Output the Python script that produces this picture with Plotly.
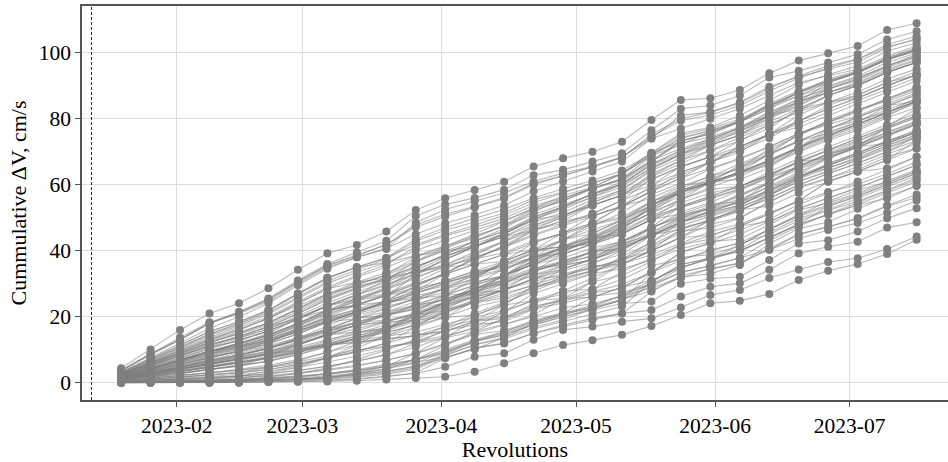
import plotly.graph_objects as go

# Revolution epochs (one marker column per revolution)
rev_dates = [
    "2023-01-19 14:24", "2023-01-26 04:00", "2023-02-01 17:30", "2023-02-08 07:12",
    "2023-02-14 21:00", "2023-02-21 10:30", "2023-02-28 00:00", "2023-03-06 13:40",
    "2023-03-13 03:20", "2023-03-19 17:00", "2023-03-26 06:30", "2023-04-01 20:00",
    "2023-04-08 09:40", "2023-04-14 23:20", "2023-04-21 13:00", "2023-04-28 02:30",
    "2023-05-04 16:00", "2023-05-11 05:50", "2023-05-17 19:30", "2023-05-24 09:00",
    "2023-05-30 22:30", "2023-06-06 12:15", "2023-06-13 02:00", "2023-06-19 15:30",
    "2023-06-26 05:00", "2023-07-02 18:40", "2023-07-09 08:20", "2023-07-15 22:00",
]

# Upper runs (cumulative dV, cm/s)
top_runs = [
    [4.4, 10.1, 16.0, 21.0, 24.1, 28.6, 34.2, 39.2, 41.7, 45.8, 52.3, 55.9, 58.4, 60.9, 65.5, 68.0, 70.0, 73.0, 79.6, 85.7, 86.2, 88.7, 93.8, 97.6, 99.8, 102.0, 106.9, 108.9],
    [3.8, 8.8, 13.1, 18.0, 21.5, 25.5, 31.0, 36.0, 39.5, 43.0, 50.5, 54.0, 56.0, 58.5, 62.9, 64.5, 67.0, 69.5, 76.5, 83.0, 84.0, 87.0, 92.5, 94.5, 97.0, 99.5, 104.0, 106.5],
    [3.2, 7.5, 12.0, 16.5, 20.0, 24.0, 29.5, 34.5, 38.0, 40.5, 48.5, 52.5, 55.0, 57.5, 61.0, 63.5, 65.5, 68.5, 74.0, 81.0, 82.0, 84.7, 89.2, 93.0, 96.0, 98.0, 101.8, 104.0],
    [3.6, 8.6, 13.0, 18.0, 21.2, 25.0, 30.5, 35.5, 38.7, 41.8, 47.7, 51.1, 53.4, 56.1, 60.4, 62.7, 65.5, 68.2, 75.2, 80.0, 82.0, 85.0, 89.7, 92.7, 95.0, 97.2, 101.5, 104.2],
    [2.3, 5.4, 8.4, 11.5, 14.1, 16.9, 20.9, 25.1, 28.3, 31.2, 34.8, 38.9, 42.9, 45.9, 50.3, 53.3, 57.2, 60.2, 66.4, 70.2, 74.0, 77.0, 82.0, 86.0, 89.5, 92.5, 96.0, 99.5],
    [2.9, 6.8, 10.8, 14.8, 18.0, 21.8, 26.8, 31.5, 35.0, 37.8, 43.5, 47.0, 49.8, 52.5, 56.0, 58.8, 61.3, 64.3, 69.5, 75.0, 77.0, 79.9, 84.1, 88.0, 91.5, 94.0, 97.9, 100.5],
    [1.8, 4.4, 6.8, 9.4, 11.0, 13.6, 17.3, 21.3, 24.8, 28.5, 33.2, 37.4, 41.2, 45.3, 49.2, 53.2, 56.2, 60.3, 66.0, 69.5, 73.4, 76.4, 81.2, 85.2, 88.0, 90.7, 94.5, 97.7],
    [2.4, 5.6, 8.8, 11.7, 13.6, 16.3, 19.9, 23.4, 25.6, 28.9, 34.6, 39.0, 42.9, 46.7, 51.8, 55.7, 59.2, 63.3, 69.7, 75.6, 77.4, 81.0, 85.5, 90.3, 93.4, 96.0, 100.5, 103.0],
    [2.1, 5.0, 7.9, 10.9, 13.5, 16.3, 20.2, 24.2, 27.5, 30.5, 34.0, 38.1, 42.1, 45.1, 49.5, 52.5, 56.3, 59.3, 65.3, 69.2, 73.0, 76.0, 81.0, 84.0, 88.0, 90.2, 94.0, 97.2],
    [2.4, 5.7, 8.9, 12.3, 14.7, 17.5, 21.6, 25.7, 28.8, 31.6, 35.3, 38.5, 41.2, 45.3, 50.2, 53.2, 57.3, 60.3, 66.0, 70.4, 73.4, 77.3, 81.2, 86.1, 89.0, 91.6, 95.5, 98.6],
    [3.0, 7.0, 10.7, 14.7, 17.8, 21.3, 26.0, 30.7, 34.2, 37.4, 42.9, 46.2, 48.7, 51.4, 55.4, 57.7, 60.4, 63.2, 69.0, 74.3, 76.3, 79.3, 83.9, 86.9, 90.0, 92.9, 97.0, 99.9],
    [3.8, 8.7, 13.7, 18.3, 21.3, 25.3, 30.6, 35.5, 38.4, 41.9, 47.1, 50.4, 53.1, 55.8, 60.0, 62.8, 65.3, 68.3, 74.6, 79.4, 81.1, 83.9, 88.4, 92.3, 95.4, 98.0, 102.5, 105.0],
    [2.8, 6.5, 10.0, 13.8, 16.8, 20.0, 24.5, 29.0, 32.5, 35.8, 41.3, 44.5, 47.0, 49.8, 53.7, 56.0, 58.8, 61.5, 67.3, 72.5, 74.5, 77.5, 82.0, 85.0, 88.0, 91.0, 95.0, 98.0],
    [1.8, 4.3, 6.8, 9.4, 11.5, 14.0, 17.5, 21.0, 23.8, 26.3, 32.7, 37.3, 41.2, 45.0, 49.6, 53.4, 57.0, 61.0, 66.9, 73.3, 75.3, 79.0, 83.2, 88.0, 91.5, 94.0, 97.9, 100.5],
    [2.5, 6.0, 9.2, 12.8, 15.3, 18.2, 22.4, 26.7, 29.8, 32.6, 36.4, 40.6, 44.4, 47.4, 52.1, 55.1, 58.9, 61.9, 68.7, 72.2, 76.0, 79.0, 84.0, 88.0, 92.0, 94.5, 98.5, 101.5],
    [2.3, 5.2, 8.3, 10.9, 12.6, 15.7, 19.4, 23.4, 26.6, 31.1, 36.8, 41.2, 45.0, 48.9, 52.9, 56.7, 59.2, 63.3, 68.8, 73.9, 76.5, 79.3, 84.6, 88.5, 91.4, 94.2, 98.5, 101.1],
    [2.5, 5.9, 8.9, 12.3, 15.0, 18.0, 22.1, 26.2, 29.5, 32.8, 38.1, 41.3, 43.8, 47.7, 52.7, 55.0, 58.8, 61.5, 67.3, 73.4, 75.4, 79.3, 83.9, 87.8, 91.0, 93.8, 98.0, 100.8],
    [2.0, 4.7, 7.5, 10.3, 12.8, 15.7, 19.4, 23.4, 26.8, 29.8, 33.2, 37.2, 41.3, 44.3, 48.6, 51.6, 55.4, 58.4, 64.2, 68.2, 72.0, 75.0, 80.0, 84.0, 89.0, 92.0, 96.0, 99.0],
    [1.9, 4.6, 7.1, 9.7, 11.8, 15.0, 19.3, 23.2, 25.3, 27.1, 30.4, 34.6, 38.6, 42.7, 46.3, 48.3, 51.3, 55.3, 61.7, 65.4, 68.4, 70.3, 74.1, 79.2, 84.0, 87.2, 91.0, 93.2],
]

# Lower runs
low_runs = [
    [0.0, 0.0, 0.0, 0.0, 0.0, 0.2, 0.3, 0.4, 0.6, 1.0, 1.4, 1.8, 3.3, 5.9, 8.9, 11.4, 12.9, 14.5, 17.2, 20.5, 24.1, 24.8, 26.9, 31.1, 33.9, 36.0, 39.0, 43.3],
    [0.0, 0.0, 0.0, 0.1, 0.2, 0.3, 0.5, 0.8, 1.2, 2.0, 2.8, 4.8, 7.9, 8.9, 13.0, 16.0, 17.0, 18.5, 19.5, 22.8, 26.6, 28.1, 31.7, 34.3, 36.6, 37.7, 40.5, 44.3],
    [0.0, 0.0, 0.1, 0.2, 0.4, 0.6, 1.0, 1.5, 2.5, 3.5, 5.0, 7.4, 10.4, 11.9, 15.0, 17.5, 19.5, 21.0, 22.0, 26.1, 29.1, 30.1, 34.2, 39.2, 41.2, 42.7, 47.0, 48.6],
    [0.1, 0.2, 0.3, 0.5, 0.8, 1.2, 1.8, 2.8, 4.0, 5.5, 7.0, 9.0, 12.5, 14.5, 17.5, 20.0, 22.0, 24.0, 24.6, 30.0, 31.5, 32.1, 37.2, 42.2, 43.2, 45.8, 49.8, 52.9],
    [0.1, 0.3, 0.4, 0.6, 0.9, 1.3, 1.8, 2.7, 3.8, 5.3, 7.0, 9.5, 12.8, 15.0, 18.0, 20.5, 22.8, 25.3, 27.8, 32.5, 34.5, 36.1, 40.6, 45.1, 47.1, 49.9, 53.7, 57.0],
    [0.2, 0.5, 0.8, 1.2, 1.6, 2.2, 3.0, 4.1, 5.3, 6.9, 8.8, 11.6, 14.6, 15.8, 18.9, 21.3, 22.5, 25.0, 29.3, 33.5, 35.3, 37.9, 43.1, 47.4, 51.1, 54.6, 58.3, 61.6],
    [0.5, 1.3, 2.1, 2.9, 3.8, 4.8, 6.3, 8.0, 10.0, 11.0, 12.0, 13.6, 15.5, 17.7, 20.0, 22.7, 23.9, 26.2, 28.8, 31.7, 34.5, 36.3, 40.3, 44.8, 47.4, 49.6, 53.5, 56.1],
    [1.1, 2.6, 4.1, 5.7, 7.1, 8.7, 10.0, 11.4, 12.4, 13.3, 14.2, 15.7, 17.6, 18.5, 22.3, 24.2, 26.2, 27.3, 29.8, 33.4, 35.6, 37.8, 40.3, 43.6, 46.3, 48.4, 51.5, 55.2],
    [0.1, 0.2, 0.3, 0.4, 0.6, 0.8, 1.1, 1.6, 2.6, 4.2, 7.0, 11.3, 15.5, 19.5, 23.9, 27.8, 31.7, 35.9, 40.2, 46.5, 49.4, 52.3, 55.9, 59.9, 63.3, 66.5, 70.0, 74.6],
    [0.2, 0.4, 0.6, 0.8, 1.0, 1.5, 2.0, 2.7, 3.6, 4.8, 6.1, 7.8, 10.1, 13.7, 18.0, 20.7, 23.0, 26.4, 29.8, 34.7, 38.0, 39.8, 43.9, 47.9, 51.0, 53.8, 55.8, 59.7],
    [0.1, 0.1, 0.2, 0.3, 0.5, 0.7, 1.0, 1.3, 2.0, 3.0, 4.5, 8.5, 11.5, 13.3, 16.3, 18.5, 20.7, 23.1, 30.5, 35.8, 37.7, 41.6, 46.6, 50.9, 54.9, 58.4, 60.8, 64.1],
    [1.4, 3.1, 4.9, 6.8, 8.4, 10.4, 12.9, 15.7, 17.2, 18.7, 20.3, 22.0, 24.2, 25.7, 28.9, 30.6, 33.1, 34.5, 37.1, 40.6, 42.8, 43.5, 47.8, 52.3, 54.5, 57.4, 61.2, 64.5],
    [0.5, 1.3, 2.0, 2.8, 3.6, 4.6, 5.9, 7.5, 9.1, 10.8, 12.5, 14.2, 16.4, 19.2, 22.5, 25.2, 27.5, 29.8, 33.4, 37.0, 40.3, 42.2, 45.0, 49.1, 52.2, 55.0, 58.3, 62.2],
    [0.9, 2.1, 3.4, 4.8, 6.1, 7.4, 9.3, 11.4, 13.4, 15.3, 17.4, 19.9, 23.0, 25.0, 28.8, 31.8, 33.8, 36.0, 38.8, 42.4, 45.8, 48.1, 51.6, 54.9, 57.8, 60.1, 63.3, 66.9],
    [0.1, 0.2, 0.3, 0.5, 0.7, 1.7, 2.8, 4.5, 7.0, 9.9, 13.2, 17.0, 21.0, 24.4, 27.7, 31.5, 34.0, 37.3, 40.0, 44.1, 48.0, 50.0, 54.8, 59.3, 62.1, 64.5, 68.5, 71.0],
    [1.4, 3.1, 4.9, 6.8, 8.4, 10.4, 12.9, 15.7, 18.0, 20.3, 22.8, 25.3, 28.5, 31.0, 34.3, 37.0, 39.5, 42.0, 44.8, 49.5, 51.8, 53.6, 58.1, 62.6, 65.1, 67.9, 71.9, 75.0],
    [0.1, 0.1, 0.2, 0.2, 0.4, 0.6, 0.8, 1.1, 1.7, 2.6, 4.0, 8.2, 11.5, 13.8, 16.8, 19.0, 22.5, 25.0, 30.5, 35.8, 37.7, 40.4, 45.5, 49.8, 52.4, 55.9, 59.5, 62.8],
    [1.1, 2.6, 4.1, 5.7, 7.1, 8.7, 10.0, 11.3, 12.3, 13.2, 14.3, 17.0, 18.9, 20.0, 23.3, 24.7, 27.2, 28.5, 33.8, 38.0, 38.8, 41.6, 46.5, 50.8, 54.0, 57.0, 60.5, 64.0],
]

# Main body runs
main_runs = [
    [0.1, 0.2, 0.3, 0.4, 0.6, 0.8, 1.1, 1.6, 2.3, 3.4, 5.0, 8.8, 12.4, 15.5, 18.5, 21.0, 25.9, 28.9, 33.3, 39.5, 42.3, 45.0, 48.8, 52.8, 56.0, 59.0, 62.5, 66.0],
    [0.1, 0.3, 0.5, 0.7, 1.0, 1.3, 1.8, 2.5, 3.5, 5.0, 7.0, 10.0, 13.0, 15.5, 18.5, 21.0, 23.5, 26.5, 31.0, 35.0, 37.5, 40.0, 44.0, 48.0, 51.0, 54.0, 57.5, 61.0],
    [0.4, 1.0, 1.6, 2.3, 3.0, 4.0, 5.5, 7.5, 9.5, 12.0, 14.5, 15.6, 18.6, 19.5, 22.8, 25.5, 25.9, 28.9, 31.0, 35.0, 37.5, 40.0, 44.0, 48.0, 53.5, 56.5, 60.0, 63.5],
    [0.7, 1.8, 2.8, 3.9, 5.1, 6.5, 8.5, 11.0, 13.5, 16.3, 19.0, 22.0, 25.0, 28.0, 31.5, 34.5, 37.5, 40.5, 44.8, 48.8, 51.8, 54.8, 58.3, 62.3, 65.8, 69.0, 72.5, 76.0],
    [1.0, 2.5, 4.0, 5.5, 7.2, 9.0, 11.5, 14.5, 17.5, 20.5, 23.5, 26.5, 29.5, 32.5, 36.0, 39.0, 42.0, 45.0, 49.5, 53.5, 56.5, 59.5, 63.0, 67.0, 70.5, 74.0, 77.5, 81.0],
    [1.4, 3.4, 5.4, 7.5, 9.6, 11.8, 14.8, 18.3, 21.5, 24.5, 27.8, 30.8, 33.8, 36.8, 40.3, 43.3, 46.3, 49.3, 53.8, 57.8, 60.8, 63.8, 67.3, 71.3, 74.8, 78.3, 81.8, 85.3],
    [1.8, 4.2, 6.8, 9.5, 12.0, 14.5, 18.0, 22.0, 25.5, 28.5, 32.0, 35.0, 38.0, 41.0, 44.5, 47.5, 50.5, 53.5, 58.0, 62.0, 65.0, 68.0, 71.5, 75.5, 79.0, 82.5, 86.0, 89.5],
    [2.2, 5.1, 8.2, 11.3, 14.0, 17.0, 21.0, 25.3, 28.8, 31.8, 35.3, 38.3, 41.3, 44.3, 47.8, 50.8, 53.8, 56.8, 61.5, 65.5, 68.5, 71.5, 75.3, 79.3, 83.0, 86.3, 90.0, 93.3],
    [2.6, 6.0, 9.5, 13.0, 16.0, 19.5, 24.0, 28.5, 32.0, 35.0, 38.5, 41.5, 44.5, 47.5, 51.0, 54.0, 57.0, 60.0, 65.0, 69.0, 72.0, 75.0, 79.0, 83.0, 87.0, 90.0, 94.0, 97.0],
    [3.1, 7.3, 11.3, 15.5, 18.5, 22.0, 27.0, 31.8, 35.0, 37.9, 41.8, 44.9, 47.7, 50.7, 54.5, 57.5, 60.5, 63.5, 69.5, 73.0, 76.0, 79.0, 83.0, 87.0, 91.0, 94.0, 98.0, 101.0],
    [3.5, 8.5, 13.0, 18.0, 21.0, 24.5, 30.0, 35.0, 38.0, 40.7, 45.0, 48.3, 50.8, 53.8, 58.0, 61.0, 64.0, 67.0, 74.0, 77.0, 80.0, 83.0, 87.0, 91.0, 93.0, 95.0, 99.0, 102.0],
    [0.1, 0.3, 0.5, 0.7, 1.0, 2.7, 4.6, 7.5, 11.5, 16.3, 21.3, 26.5, 31.6, 36.8, 40.3, 45.4, 48.4, 53.5, 58.0, 62.0, 66.8, 69.8, 75.3, 79.3, 83.0, 86.3, 90.0, 93.3],
    [2.2, 5.1, 8.2, 11.3, 14.0, 17.0, 19.5, 22.0, 23.5, 24.5, 25.6, 26.5, 27.3, 28.0, 31.5, 32.3, 35.3, 36.0, 40.0, 44.0, 44.6, 47.5, 48.8, 52.8, 56.0, 59.0, 62.5, 66.0],
    [0.4, 1.0, 1.6, 2.3, 3.0, 4.0, 5.5, 7.5, 9.5, 12.0, 16.8, 22.0, 27.3, 32.5, 38.1, 43.3, 48.4, 53.5, 59.8, 65.5, 68.5, 73.3, 77.1, 83.0, 87.0, 90.0, 94.0, 97.0],
    [2.6, 6.0, 9.5, 13.0, 16.0, 19.5, 24.0, 28.5, 30.4, 31.8, 33.6, 35.0, 35.9, 36.8, 40.3, 41.1, 44.1, 45.0, 49.5, 51.1, 54.1, 54.8, 58.3, 62.3, 65.8, 69.0, 72.5, 76.0],
    [1.0, 2.5, 4.0, 5.5, 7.2, 9.0, 11.5, 14.5, 17.5, 18.4, 19.0, 19.8, 20.5, 23.5, 24.9, 27.8, 28.3, 31.3, 35.5, 37.3, 39.9, 42.5, 46.4, 50.4, 53.5, 56.5, 60.0, 63.5],
    [0.1, 0.2, 0.3, 0.4, 0.6, 0.8, 1.1, 1.6, 2.9, 5.0, 8.9, 13.8, 18.6, 23.5, 29.3, 34.5, 37.5, 42.8, 47.1, 53.5, 56.5, 59.5, 63.0, 67.0, 70.5, 74.0, 77.5, 83.1],
    [1.4, 3.4, 5.4, 7.5, 9.6, 11.8, 14.8, 18.3, 21.5, 24.5, 27.8, 32.9, 38.0, 41.0, 46.1, 49.1, 53.8, 56.8, 63.3, 67.3, 72.0, 75.0, 81.0, 85.0, 91.0, 94.0, 98.0, 101.0],
    [3.1, 7.3, 11.3, 15.5, 18.5, 22.0, 27.0, 31.8, 35.0, 36.4, 38.5, 39.9, 41.3, 44.3, 46.1, 49.1, 50.5, 53.5, 55.9, 59.9, 60.8, 63.8, 67.3, 71.3, 74.8, 78.3, 81.8, 85.3],
    [0.7, 1.8, 2.8, 3.9, 5.1, 7.9, 11.5, 14.5, 15.5, 16.3, 19.0, 24.3, 29.5, 34.6, 38.1, 39.0, 42.0, 47.1, 53.8, 57.8, 60.8, 61.6, 65.1, 71.3, 76.9, 80.4, 83.9, 85.3],
    [0.3, 0.7, 1.1, 1.5, 2.0, 2.7, 3.7, 5.0, 6.5, 8.5, 10.8, 13.8, 16.8, 21.5, 27.0, 30.0, 33.0, 38.3, 42.4, 48.8, 51.8, 54.8, 60.8, 64.6, 68.1, 71.5, 72.5, 76.0],
    [1.8, 4.2, 6.8, 9.5, 12.0, 14.5, 18.0, 22.0, 23.5, 26.5, 27.8, 30.8, 33.8, 34.6, 38.1, 41.1, 42.0, 45.0, 49.5, 55.6, 58.6, 59.5, 63.0, 67.0, 68.1, 71.5, 77.5, 81.0],
    [2.4, 5.5, 8.8, 12.1, 15.0, 18.2, 22.5, 26.9, 30.4, 33.4, 36.9, 39.9, 42.9, 45.9, 49.4, 50.8, 53.8, 56.8, 59.8, 63.8, 66.8, 71.5, 75.3, 77.4, 81.0, 84.4, 88.0, 91.4],
    [1.2, 2.9, 4.7, 6.5, 8.4, 10.4, 13.1, 16.4, 19.5, 22.5, 25.6, 28.6, 31.6, 36.8, 42.4, 45.4, 50.5, 53.5, 58.0, 63.8, 66.8, 71.5, 75.3, 81.1, 85.0, 88.1, 92.0, 95.1],
    [0.6, 1.4, 2.2, 3.1, 4.1, 5.3, 7.0, 9.3, 11.5, 14.1, 16.8, 19.8, 25.0, 28.0, 33.8, 39.0, 42.0, 47.1, 51.6, 57.8, 60.8, 63.8, 69.4, 73.4, 76.9, 80.4, 83.9, 87.4],
    [0.0, 0.0, 0.0, 0.0, 0.1, 0.3, 0.4, 0.6, 1.0, 1.8, 3.0, 7.5, 10.5, 12.0, 15.0, 17.0, 19.0, 21.0, 27.6, 32.0, 33.0, 35.7, 42.1, 46.7, 48.7, 52.7, 56.5, 59.6],
    [0.2, 0.5, 0.8, 1.1, 1.5, 2.0, 2.7, 3.8, 5.0, 6.8, 8.9, 11.9, 14.9, 17.5, 20.6, 25.5, 30.6, 36.0, 40.0, 44.0, 49.4, 52.4, 55.9, 59.9, 63.4, 66.5, 70.0, 73.5],
    [0.3, 0.8, 1.3, 1.9, 2.5, 3.3, 4.6, 6.3, 8.0, 10.3, 12.6, 15.6, 18.6, 21.5, 24.9, 25.5, 28.3, 33.6, 37.8, 41.8, 44.6, 47.5, 51.1, 55.1, 61.0, 64.0, 67.5, 71.0],
    [1.0, 2.9, 4.7, 7.5, 9.6, 11.8, 16.4, 20.1, 23.5, 26.5, 29.9, 32.9, 35.9, 38.9, 40.3, 41.1, 44.1, 47.1, 51.6, 55.6, 60.8, 65.9, 69.4, 75.5, 79.0, 82.5, 86.0, 89.5],
    [0.9, 2.1, 3.4, 4.7, 6.2, 7.9, 10.0, 12.8, 15.5, 18.4, 21.3, 24.3, 27.3, 30.3, 33.8, 36.8, 39.8, 40.5, 44.8, 46.4, 49.4, 52.4, 53.5, 57.5, 61.0, 64.0, 67.5, 73.5],
    [2.8, 6.6, 10.4, 14.3, 17.3, 20.8, 25.5, 30.1, 33.5, 36.4, 40.1, 43.2, 46.1, 49.1, 52.8, 55.8, 58.8, 61.8, 67.3, 71.0, 74.0, 77.0, 81.0, 83.0, 85.0, 86.3, 90.0, 93.3],
    [0.1, 0.2, 0.4, 0.5, 0.8, 1.1, 1.5, 2.0, 2.9, 4.2, 6.0, 9.4, 12.4, 14.6, 17.6, 20.0, 22.4, 25.1, 33.3, 39.5, 42.3, 47.5, 51.1, 55.1, 61.0, 64.0, 65.0, 68.5],
]

# Further runs filling the dense band
extra_runs = [
    [1.2, 2.7, 4.3, 5.9, 7.3, 8.9, 10.3, 11.8, 12.9, 14.0, 15.3, 17.7, 19.9, 21.8, 25.0, 26.7, 30.6, 32.5, 36.7, 41.8, 43.5, 46.3, 49.5, 54.0, 57.5, 61.0, 64.5, 68.5],
    [0.3, 0.7, 1.1, 1.5, 2.0, 2.7, 3.7, 5.0, 6.5, 8.5, 11.9, 16.0, 20.2, 24.0, 28.3, 32.2, 36.0, 40.0, 45.4, 50.3, 53.0, 56.7, 60.6, 65.5, 69.0, 72.0, 75.8, 79.0],
    [0.3, 0.7, 1.1, 1.5, 2.0, 3.4, 5.1, 7.5, 10.5, 14.2, 17.9, 21.1, 25.1, 28.2, 31.6, 35.5, 37.2, 41.2, 44.5, 48.5, 52.2, 54.9, 59.7, 63.7, 68.3, 71.4, 75.0, 78.4],
    [1.7, 3.9, 6.2, 8.5, 10.6, 13.0, 16.3, 19.8, 22.0, 24.1, 26.3, 28.5, 30.5, 32.4, 35.9, 37.8, 40.8, 42.8, 47.2, 50.0, 53.0, 56.5, 60.5, 65.5, 69.5, 73.0, 77.0, 80.5],
    [1.2, 3.0, 4.7, 6.5, 8.4, 10.4, 13.2, 16.4, 19.5, 21.5, 23.4, 25.3, 27.2, 30.2, 32.6, 35.6, 37.3, 40.3, 44.7, 47.6, 50.4, 53.2, 56.9, 60.9, 64.2, 67.4, 70.9, 74.4],
    [1.0, 2.2, 3.6, 5.0, 6.3, 7.7, 9.6, 11.8, 14.2, 16.8, 20.5, 24.4, 28.3, 32.3, 36.9, 41.0, 44.0, 48.2, 52.6, 57.8, 60.8, 63.8, 67.3, 71.3, 74.8, 78.3, 81.8, 86.3],
    [1.1, 2.6, 4.1, 5.7, 7.1, 8.7, 10.7, 13.0, 14.9, 16.8, 19.2, 22.9, 25.9, 28.2, 31.4, 33.9, 36.4, 38.9, 44.6, 48.8, 50.8, 53.6, 58.7, 63.0, 65.9, 69.5, 73.3, 76.5],
    [1.4, 3.3, 5.2, 7.1, 8.8, 10.8, 13.4, 16.2, 18.5, 20.9, 23.7, 26.7, 29.7, 32.5, 35.8, 39.8, 43.8, 48.0, 52.5, 56.5, 60.7, 63.7, 67.5, 71.5, 75.2, 78.3, 82.0, 85.3],
    [1.7, 4.1, 6.3, 8.7, 10.5, 12.7, 15.8, 19.1, 21.5, 24.1, 27.2, 30.3, 33.2, 36.1, 39.7, 41.5, 44.4, 48.6, 53.7, 57.4, 60.3, 63.3, 67.1, 71.1, 76.0, 79.0, 82.8, 86.0],
    [1.8, 4.4, 6.7, 9.3, 10.9, 12.8, 15.8, 18.5, 20.5, 22.5, 25.5, 28.9, 31.6, 34.2, 37.8, 40.5, 43.2, 46.1, 53.7, 58.3, 61.2, 65.3, 69.1, 73.1, 77.0, 79.5, 82.0, 85.3],
    [0.9, 2.1, 3.3, 4.5, 5.8, 7.3, 9.3, 11.7, 14.0, 16.5, 19.3, 23.4, 27.4, 31.3, 36.6, 39.6, 43.4, 47.6, 52.9, 58.1, 61.9, 64.9, 70.9, 74.8, 79.6, 82.8, 85.3, 88.5],
    [1.6, 3.7, 5.7, 7.8, 9.3, 11.2, 13.7, 16.2, 18.0, 19.1, 20.8, 23.7, 25.9, 28.2, 30.6, 33.1, 34.8, 37.3, 41.8, 46.0, 46.9, 49.8, 54.7, 59.0, 61.8, 65.5, 69.2, 72.5],
    [1.5, 3.5, 5.5, 7.6, 9.6, 12.5, 15.5, 18.3, 19.5, 20.4, 22.3, 25.4, 28.4, 31.3, 34.8, 35.7, 38.7, 41.6, 46.9, 50.9, 52.7, 54.6, 57.0, 62.1, 66.5, 69.7, 73.2, 75.7],
    [1.0, 2.3, 3.7, 5.1, 6.5, 8.6, 11.3, 14.8, 17.5, 21.4, 24.6, 28.7, 32.7, 35.7, 39.2, 43.3, 45.2, 49.3, 53.8, 58.8, 62.7, 64.7, 69.2, 73.2, 75.6, 78.9, 83.8, 87.2],
    [1.3, 2.9, 4.6, 6.3, 7.8, 9.5, 11.8, 14.3, 16.4, 18.4, 21.0, 24.4, 27.7, 30.7, 34.0, 35.9, 39.9, 42.9, 46.6, 51.7, 54.6, 58.3, 62.1, 65.1, 68.5, 71.7, 75.3, 78.7],
    [1.1, 2.7, 4.4, 6.0, 7.8, 9.7, 12.3, 15.5, 18.5, 20.5, 22.3, 24.2, 26.1, 30.2, 33.7, 36.6, 39.4, 42.4, 46.8, 50.6, 53.4, 57.0, 60.9, 65.8, 69.3, 72.3, 76.0, 79.3],
    [1.6, 3.7, 5.9, 8.1, 10.1, 12.4, 15.5, 18.9, 21.0, 23.0, 25.2, 27.4, 30.5, 32.4, 37.1, 40.1, 43.1, 46.1, 50.6, 54.5, 57.5, 59.3, 63.9, 67.9, 71.4, 74.7, 78.2, 81.7],
    [0.6, 1.6, 2.6, 4.1, 5.3, 6.6, 9.1, 11.3, 13.5, 15.8, 18.5, 21.5, 24.5, 27.2, 29.4, 31.1, 33.8, 36.8, 41.3, 45.3, 49.2, 53.0, 56.7, 61.8, 65.0, 68.3, 71.8, 75.3],
    [1.8, 4.1, 6.5, 8.9, 11.1, 13.7, 17.0, 20.7, 23.8, 26.7, 29.9, 32.9, 35.9, 38.9, 42.4, 45.4, 48.4, 50.3, 54.9, 57.7, 60.7, 63.7, 66.3, 70.3, 74.0, 77.0, 80.8, 85.3],
    [1.6, 3.8, 6.0, 8.3, 10.2, 12.4, 15.5, 18.8, 21.5, 24.2, 27.3, 29.4, 32.4, 34.3, 37.8, 40.7, 42.4, 45.4, 49.2, 53.0, 55.8, 58.5, 62.5, 65.5, 69.3, 71.4, 75.0, 78.4],
    [0.9, 2.1, 3.4, 4.8, 6.1, 7.4, 9.2, 11.3, 13.3, 15.2, 17.5, 21.3, 24.3, 26.5, 29.8, 32.3, 34.8, 37.3, 42.8, 47.0, 49.0, 51.9, 56.8, 61.1, 63.9, 67.6, 71.3, 74.6],
    [1.8, 4.3, 6.8, 9.3, 11.6, 14.3, 17.8, 21.5, 24.8, 26.7, 28.8, 30.7, 32.5, 35.5, 38.0, 40.9, 42.7, 45.7, 50.3, 53.2, 56.0, 58.8, 62.7, 66.7, 70.3, 73.3, 77.0, 80.3],
    [2.7, 6.2, 9.8, 13.4, 16.3, 19.5, 23.3, 26.9, 29.3, 31.2, 33.7, 35.7, 37.5, 39.4, 43.0, 44.9, 47.9, 49.8, 54.8, 58.5, 60.3, 63.3, 65.9, 69.9, 73.5, 76.5, 80.3, 83.5],
    [1.9, 4.5, 6.9, 9.6, 11.3, 13.3, 16.4, 19.4, 21.5, 23.8, 27.0, 30.1, 32.9, 35.7, 39.3, 43.3, 47.3, 51.5, 57.0, 60.5, 64.7, 67.7, 71.5, 75.5, 78.2, 80.8, 84.5, 87.8],
    [0.7, 1.8, 2.8, 3.9, 5.1, 6.5, 8.5, 11.0, 13.5, 16.3, 20.2, 24.3, 28.4, 32.5, 37.1, 41.2, 45.2, 49.3, 54.7, 59.5, 62.5, 66.4, 70.1, 75.0, 78.8, 82.0, 85.8, 89.0],
    [0.4, 1.1, 1.7, 2.3, 3.1, 4.6, 6.6, 9.3, 12.5, 16.3, 20.2, 24.3, 28.3, 32.4, 35.9, 40.0, 43.0, 47.0, 51.4, 55.4, 59.3, 62.3, 66.8, 70.8, 74.4, 77.7, 81.3, 84.7],
    [0.9, 2.1, 3.4, 4.7, 6.1, 7.6, 9.7, 12.3, 14.8, 17.4, 20.2, 23.2, 26.2, 29.2, 32.6, 34.4, 37.3, 41.5, 45.8, 49.8, 52.7, 55.7, 59.2, 63.2, 67.9, 71.2, 74.7, 78.2],
    [1.1, 2.6, 4.2, 5.9, 7.5, 9.3, 11.8, 14.8, 17.5, 20.3, 23.3, 25.3, 28.3, 30.3, 33.7, 36.5, 38.2, 41.2, 44.5, 48.5, 51.3, 54.0, 57.8, 61.8, 66.3, 69.5, 73.0, 76.5],
    [1.8, 4.3, 6.8, 9.4, 11.8, 14.4, 17.9, 21.8, 25.2, 28.2, 31.6, 35.6, 39.7, 42.7, 47.0, 50.0, 53.8, 56.8, 62.4, 66.4, 70.3, 73.3, 78.2, 82.2, 87.0, 90.2, 94.0, 97.2],
    [2.0, 4.8, 7.6, 10.4, 12.9, 15.6, 19.3, 23.3, 26.5, 29.5, 32.9, 35.9, 38.9, 43.0, 47.6, 50.6, 54.7, 57.7, 62.7, 67.4, 70.4, 74.3, 78.2, 82.1, 85.0, 87.2, 91.0, 94.2],
    [1.8, 4.2, 6.5, 8.9, 10.8, 13.0, 16.3, 19.7, 22.3, 25.0, 29.3, 33.5, 37.5, 41.6, 46.3, 50.4, 54.5, 58.5, 64.7, 69.3, 72.3, 76.2, 80.1, 85.0, 89.0, 92.0, 96.0, 99.0],
    [1.3, 2.9, 4.7, 6.4, 8.0, 10.5, 13.6, 17.2, 21.0, 24.9, 29.1, 33.2, 37.3, 41.4, 44.9, 48.1, 51.1, 55.2, 58.9, 62.9, 66.8, 70.7, 75.3, 78.4, 82.0, 85.4, 89.0, 92.4],
]

event_date = "2023-01-13 00:00"
x_range = ["2023-01-10 21:00", "2023-07-22 22:00"]
y_range = [-5.24, 114.15]
y_ticks = [0, 20, 40, 60, 80, 100]

FONT = "Liberation Serif, Times New Roman, serif"
GRAY = "#808080"

fig = go.Figure()
for run in main_runs + extra_runs + low_runs + top_runs:
    fig.add_trace(go.Scatter(
        x=rev_dates, y=run, mode="lines+markers",
        line=dict(color="rgba(128,128,128,0.55)", width=1.1),
        marker=dict(color=GRAY, size=8, line=dict(width=0)),
        showlegend=False, hoverinfo="skip",
    ))

fig.add_shape(type="line", xref="x", yref="paper", x0=event_date, x1=event_date,
              y0=0, y1=1, line=dict(color="#1a1a8c", width=1, dash="3px,2px"))

fig.update_layout(
    width=948, height=462,
    margin=dict(l=82, r=0, t=6, b=62),
    paper_bgcolor="white", plot_bgcolor="white",
    font=dict(family=FONT, size=21.5, color="black"),
    showlegend=False,
)
fig.update_xaxes(
    type="date", range=x_range, tickformat="%Y-%m", dtick="M1", tick0="2023-01-01",
    showgrid=True, gridcolor="#dcdcdc", gridwidth=1,
    showline=True, linecolor="#555555", linewidth=1.5, mirror=True,
    ticks="outside", ticklen=5, tickcolor="#555555",
    tickfont=dict(family=FONT, size=21.5, color="black"),
    title=dict(text="Revolutions", font=dict(family=FONT, size=22, color="black"), standoff=0),
    zeroline=False, automargin=False,
)
fig.update_yaxes(
    range=y_range, tickvals=y_ticks,
    showgrid=True, gridcolor="#dcdcdc", gridwidth=1,
    showline=True, linecolor="#555555", linewidth=1.5, mirror=False,
    ticks="outside", ticklen=5, tickcolor="#555555",
    tickfont=dict(family=FONT, size=21.5, color="black"),
    title=dict(text="Cummulative ΔV, cm/s", font=dict(family=FONT, size=22, color="black"), standoff=6),
    zeroline=False, automargin=False,
)

fig.write_html("out.html", config={"displayModeBar": False},
               post_script="document.body.style.margin='0';")
